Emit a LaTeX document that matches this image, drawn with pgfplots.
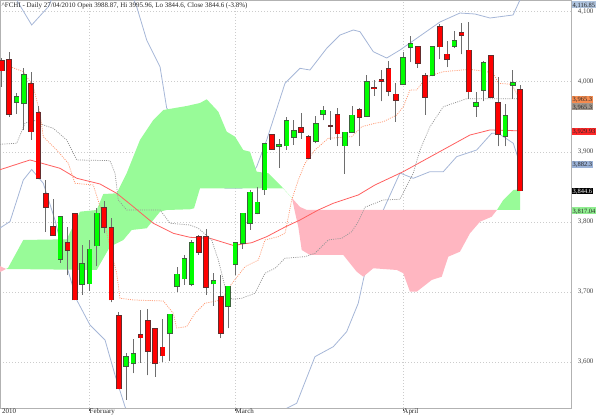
\documentclass[border=0pt]{standalone}
\usepackage{fontspec}
\setmainfont{Liberation Serif}
\usepackage{pgfplots}
\usepackage{pgfplotstable}
\pgfplotsset{compat=1.18}

\definecolor{cloudG}{RGB}{152,251,152}
\definecolor{cloudR}{RGB}{255,182,193}
\definecolor{bandC}{RGB}{165,182,215}
\definecolor{maC}{RGB}{255,95,95}
\definecolor{tenC}{RGB}{255,150,110}
\definecolor{kijC}{RGB}{150,150,150}
\definecolor{upC}{RGB}{0,255,0}
\definecolor{dnC}{RGB}{255,0,0}
\definecolor{upB}{RGB}{60,100,60}
\definecolor{dnB}{RGB}{100,45,45}
\definecolor{wickC}{RGB}{110,110,110}
\definecolor{lblBlue}{RGB}{176,196,222}
\definecolor{lblOr}{RGB}{245,140,80}
\definecolor{lblGr}{RGB}{160,150,140}
\definecolor{lblRed}{RGB}{255,40,40}
\definecolor{lblBlue2}{RGB}{155,178,215}
\definecolor{lblGreen}{RGB}{144,238,144}

% index = trading day (0 = first visible session), o h l c
\pgfplotstableread{
i o h l c
0 4030 4034 3993 4016
1 4031 4043 3950 3954
4 3997 4014 3917 3929
5 3956 3965 3861 3862
6 3840 3860 3786 3821
7 3793 3832 3780 3781
9 3770 3793 3724 3760
10 3811 3812 3688 3689
14 3820 3830 3784 3793
15 3792 3805 3685 3689
16 3666 3672 3561 3562
19 3639 3674 3599 3635
20 3659 3675 3581 3616
21 3647 3647 3579 3598
22 3621 3661 3600 3609
27 3779 3782 3753 3757
28 3779 3790 3696 3707
30 3693 3724 3634 3641
37 3924 3925 3903 3904
41 3934 3956 3919 3928
42 3921 3924 3890 3891
45 3937 3958 3917 3937
46 3953 3962 3908 3926
49 3960 3963 3909 3949
51 3991 4003 3980 3990
52 4003 4017 3972 4001
53 4018 4029 3979 3987
54 3982 3998 3943 3974
57 4050 4051 4020 4027
58 4008 4012 3953 3978
60 4078 4083 4032 4050
61 4039 4058 4021 4032
63 4070 4084 4039 4067
64 4045 4086 3976 3986
67 4037 4038 3977 3978
68 3970 4007 3908 3925
71 3988.87 3995.96 3844.6 3844.6
}\redT

\pgfplotstableread{
i o h l c
2 3971 3984 3954 3978
3 3969 4020 3931 4010
8 3747 3808 3742 3807
11 3711 3767 3696 3740
12 3712 3774 3702 3761
13 3766 3820 3737 3812
17 3594 3613 3546 3607
18 3598 3633 3584 3612
23 3641 3669 3602 3668
24 3708 3736 3700 3725
25 3719 3753 3710 3747
26 3711 3774 3708 3770
29 3712 3727 3680 3716
31 3680 3709 3648 3708
32 3740 3771 3724 3770
33 3770 3813 3762 3812
34 3798 3846 3789 3842
35 3812 3850 3811 3828
36 3846 3912 3839 3911
38 3908 3918 3877 3910
39 3909 3950 3903 3944
40 3921 3946 3910 3930
43 3915 3951 3912 3940
44 3954 3966 3945 3959
47 3909 3929 3869 3928
48 3928 3965 3927 3952
50 3951 4009 3950 4000
55 3997 4042 3996 4034
56 4049 4066 4028 4054
59 4009 4051 4008 4050
62 4051 4073 4048 4058
65 3965 3986 3950 3970
66 3988 4030 3972 4027
69 3922 3968 3908 3951
70 3995 4017 3976 3998
}\greenT

\pgfplotsset{candle/.style={only marks, mark=none, mark size=0pt,
  mark options={draw=none, fill=none},
  error bars/.cd, y dir=plus, y explicit, error mark=none}}

\begin{document}
\begin{tikzpicture}
\path[use as bounding box] (0,-8bp) rectangle (600bp,408bp);
\begin{axis}[
  at={(0,0)}, anchor=south west,
  scale only axis, width=571bp, height=408bp,
  xmin=-0.274, xmax=77.99, ymin=3534.4, ymax=4116.7,
  clip mode=individual,
  axis line style={gray!60, line width=0.7bp},
  xtick={12,32,55}, xticklabels={February,March,April},
  xtick pos=bottom, xtick align=outside, major tick length=3bp,
  xtick style={black!70, line width=0.5bp},
  xticklabel style={anchor=north west, xshift=-0.5bp, yshift=2.8bp, inner sep=0.5bp, text=black!85},
  ytick={3600,3700,3800,3900,4000,4100},
  ytick pos=right, yticklabel pos=right,
  ytick style={draw=none},
  yticklabel style={anchor=east, xshift=26bp, text=gray!55!black},
  tick label style={font=\fontsize{7}{8}\selectfont},
  /pgf/number format/1000 sep={,},
  /pgf/number format/assume math mode=true,
  xmajorgrids, ymajorgrids,
  major grid style={gray!40, dash pattern=on 0.6bp off 2.4bp, line width=0.6bp},
]

% Bollinger bands
\addplot[bandC, line width=0.8bp] coordinates {
(-0.27,4152) (2.01,4116.7) (4.07,4081.0) (6.35,4107.1) (7.95,4145) (10.69,4188) (14.80,4188) (17.27,4138) (18.46,4107.1) (19.83,4059.6) (21.66,4021.5) (22.57,3962.6) (30.56,3848.0) (32.89,3848.0) (34.91,3878.8) (36.28,3916.9) (38.79,3997.8) (40.84,4019.2) (42.21,4016.8) (44.51,4047.8) (46.33,4066.7) (48.15,4073.9) (49.07,4071.5) (50.89,4042.9) (52.73,4033.9) (54.55,4045.3) (57.29,4065.3) (60.03,4085.3) (62.77,4098.1) (64.83,4096.7) (66.89,4091.0) (70.04,4095.3) (71,4116.85)};
\addplot[bandC, line width=0.8bp] coordinates {
(-0.27,3791.3) (1.10,3800.6) (2.92,3859.8) (4.07,3874.8) (5.66,3855.1) (7.26,3802.7) (8.63,3745.6) (10.24,3688.6) (12.06,3652.9) (14.12,3631.5) (15.49,3581.5) (16.86,3536.3) (18.23,3503) (23.03,3446) (31.25,3446) (37.42,3510) (39.02,3534.0) (40.39,3541.1) (42.90,3607.7) (45.41,3621.9) (47.24,3643.3) (48.83,3683.9) (49.52,3717.1) (50.85,3774.2) (52.26,3817.0) (54.55,3869.8) (56.37,3862.2) (58.66,3871.7) (60.49,3871.7) (62.32,3893.1) (65.06,3902.6) (67.12,3926.5) (68.02,3926.5) (70.08,3912.2) (71,3882.3)};

% Ichimoku cloud
\addplot[fill=cloudR, draw=none] coordinates {(-0.27,3737) (0.55,3732.8) (-0.27,3728.5)};
\addplot[fill=cloudG, draw=none] coordinates {
(0.55,3732.8) (0.82,3734.2) (2.92,3774.2) (8.87,3775.2) (10.69,3814.6) (12.98,3817.0) (13.88,3839.8) (15.72,3840.8) (17.09,3869.4) (18.91,3916.9) (20.74,3945.4) (22.11,3959.7) (25.31,3965.4) (27.14,3969.7) (28.06,3975.0) (29.65,3957.3) (30.80,3928.7) (31.94,3921.6) (33.07,3902.6) (33.99,3900.2) (34.91,3871.7) (36.50,3869.4) (38.34,3850.3) (39.75,3834)
(38.51,3848.0) (27.14,3848.0) (26.32,3819.4) (25.77,3818.0) (22.57,3817.0) (21.66,3814.6) (19.83,3790.9) (17.78,3788.5) (16.63,3774.2) (14.80,3764.6) (12.98,3731.4) (0.55,3732.8)};
\addplot[fill=cloudR, draw=none] coordinates {
(39.75,3834) (40.84,3821.3) (41.80,3817) (67.84,3817)
(67.12,3807.4) (65.52,3800.3) (64.14,3783.7) (62.77,3757.5) (61.17,3750.4) (60.27,3721.8) (58.90,3717.1) (56.84,3700.4) (55.92,3700.4) (55.0,3726.7) (54.10,3731.4) (50.89,3733.8) (49.52,3721.8) (48.62,3728.9) (46.78,3752.8) (42.21,3752.8) (41.08,3759.9) (40.61,3793.2) (40.15,3814) (39.75,3834)};
\addplot[fill=cloudG, draw=none] coordinates {
(67.84,3817) (68.71,3831.3) (70.08,3845.5) (71,3846.5) (71,3817.04) (67.84,3817)};

% moving average
\addplot[maC, line width=0.8bp] coordinates {
(-0.27,3874.5) (3.84,3888.4) (7.95,3876.5) (10.24,3862.3) (13.43,3854.1) (15.72,3840.8) (18.0,3821.7) (20.74,3798.0) (23.48,3783.7) (25.77,3778.0) (28.51,3776.6) (31.70,3766.4) (34.22,3770.3) (36.28,3778.9) (38.79,3792.7) (40.84,3802.7) (43.35,3817.0) (45.41,3826.6) (48.83,3838.4) (51.12,3852.7) (55.0,3871.7) (59.58,3897.9) (64.14,3924.0) (66.88,3931.2) (71,3929.93)};

% kijun (grey dotted)
\addplot[kijC, line width=0.75bp, dash pattern=on 1bp off 1.2bp] coordinates {
(-0.27,3910.8) (2.01,3912.2) (3.15,3940.7) (4.29,3945.4) (5.66,3938.3) (7.03,3933.6) (8.87,3916.9) (10.24,3888.4) (14.80,3887.4) (15.49,3869.4) (15.94,3831.3) (17.09,3817.0) (21.66,3817.0) (23.03,3798.0) (25.77,3795.6) (26.91,3790.9) (28.74,3774.2) (29.65,3745.6) (30.56,3707.6) (31.48,3689.6) (32.85,3691.0) (34.68,3698.1) (36.05,3726.7) (37.42,3733.8) (38.79,3748.1) (41.53,3750.4) (42.90,3755.2) (44.72,3774.2) (46.56,3776.6) (47.93,3786.0) (48.83,3800.3) (49.75,3820.9) (52.26,3831.3) (54.55,3832.3) (56.37,3869.4) (57.29,3902.6) (58.66,3935.9) (60.49,3964.4) (63.69,3975.8) (70.72,3975.8)};

% tenkan (orange dotted)
\addplot[tenC, line width=0.75bp, dash pattern=on 1bp off 1.2bp] coordinates {
(1.10,4021.5) (2.92,4014.4) (4.29,3993.0) (5.21,3955.0) (5.66,3921.6) (7.50,3902.6) (9.09,3883.6) (10.0,3855.1) (12.51,3852.7) (13.88,3807.4) (14.57,3774.2) (15.72,3726.7) (16.17,3691.0) (18.0,3688.6) (22.11,3687.1) (23.48,3669.6) (23.94,3648.6) (25.31,3650.5) (26.45,3669.6) (27.82,3683.9) (30.11,3688.6) (31.02,3705.3) (33.31,3736.1) (35.13,3745.6) (36.05,3774.2) (37.87,3778.9) (38.79,3783.7) (39.71,3831.3) (40.61,3859.8) (41.53,3883.6) (42.90,3902.6) (44.72,3919.3) (47.93,3921.6) (49.30,3935.9) (51.12,3940.7) (52.26,3943.0) (54.10,3952.6) (55.0,3964.4) (55.92,3988.3) (56.84,3988.3) (58.21,4007.2) (60.49,4014.4) (64.14,4017.8) (67.33,4012.9) (68.02,3997.8) (69.86,3996.4) (70.54,3983.5) (71,3975)};

% candlesticks: wicks
\addplot[candle, error bar style={line width=1bp, color=wickC}]
  table[x=i, y=l, y error expr=\thisrow{h}-\thisrow{l}] {\redT};
\addplot[candle, error bar style={line width=1bp, color=wickC}]
  table[x=i, y=l, y error expr=\thisrow{h}-\thisrow{l}] {\greenT};
% bodies: border
\addplot[candle, error bar style={line width=5.6bp, color=dnB}]
  table[x=i, y expr={min(\thisrow{o},\thisrow{c})-1.0}, y error expr={abs(\thisrow{c}-\thisrow{o})+2.0}] {\redT};
\addplot[candle, error bar style={line width=5.6bp, color=upB}]
  table[x=i, y expr={min(\thisrow{o},\thisrow{c})-1.0}, y error expr={abs(\thisrow{c}-\thisrow{o})+2.0}] {\greenT};
% bodies: fill
\addplot[candle, error bar style={line width=4bp, color=dnC}]
  table[x=i, y expr={min(\thisrow{o},\thisrow{c})}, y error expr={abs(\thisrow{c}-\thisrow{o})}] {\redT};
\addplot[candle, error bar style={line width=4bp, color=upC}]
  table[x=i, y expr={min(\thisrow{o},\thisrow{c})}, y error expr={abs(\thisrow{c}-\thisrow{o})}] {\greenT};

% title and labels
\node[anchor=north west, inner sep=0pt, font=\fontsize{7}{8}\selectfont, text=black!85]
  at (rel axis cs:0,1) [xshift=1.5bp, yshift=-2bp]
  {\textasciicircum FCHI - Daily 27/04/2010 Open 3988.87, Hi 3995.96, Lo 3844.6, Close 3844.6 (-3.8\%)};
\node[anchor=north west, inner sep=0.5bp, font=\fontsize{7}{8}\selectfont, text=black!85]
  at (rel axis cs:0,0) [xshift=1.5bp, yshift=-0.3bp] {2010};

\tikzset{lbl/.style={anchor=west, inner xsep=0.7bp, inner ysep=0.6bp, text height=5.2bp, text depth=0.3bp,
  font=\fontsize{6.5}{7}\selectfont, text=black!85, xshift=0.8bp}}
\node[lbl, fill=lblBlue] at (axis cs:77.99,4110.0) {4,116.85};
\node[lbl, fill=lblOr] at (axis cs:77.99,3975.1) {3,965.3};
\node[lbl, fill=lblGr] at (axis cs:77.99,3964.4) {3,965.3};
\node[lbl, fill=lblRed] at (axis cs:77.99,3929.0) {3,929.93};
\node[lbl, fill=lblBlue2] at (axis cs:77.99,3882.2) {3,882.3};
\node[lbl, fill=black, text=white] at (axis cs:77.99,3844.1) {3,844.6};
\node[lbl, fill=lblGreen] at (axis cs:77.99,3816.0) {3,817.04};
\end{axis}
\end{tikzpicture}
\end{document}
